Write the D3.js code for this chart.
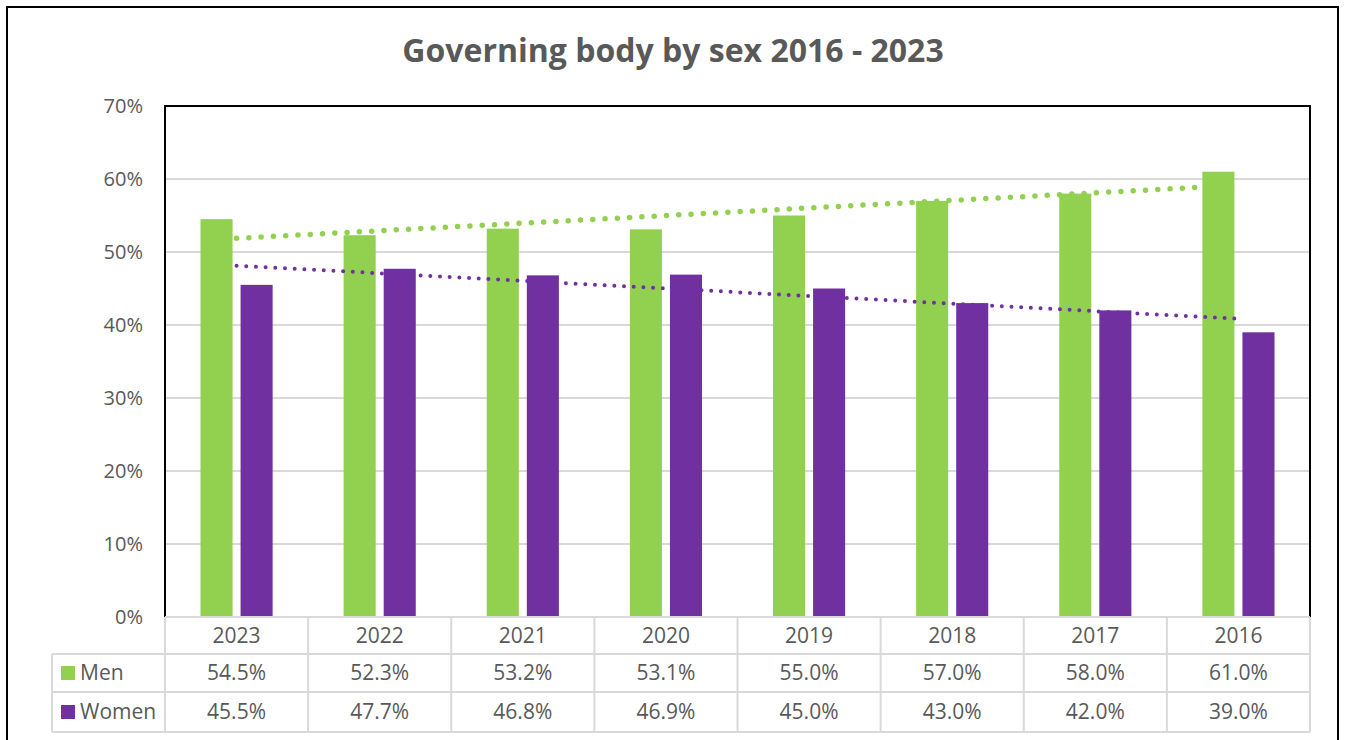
<!DOCTYPE html>
<html>
<head>
<meta charset="utf-8">
<script src="https://cdn.jsdelivr.net/npm/d3@7"></script>
<style>
  html, body { margin: 0; padding: 0; background: #fff; }
  svg { display: block; }
  text { font-family: "Open Sans", "Noto Sans", sans-serif; fill: #595959; }
</style>
</head>
<body>
<svg id="chart" width="1346" height="740"></svg>
<script>
// Governing body composition by sex, reported per year
const years = ["2023", "2022", "2021", "2020", "2019", "2018", "2017", "2016"];
const men   = [54.5, 52.3, 53.2, 53.1, 55.0, 57.0, 58.0, 61.0];
const women = [45.5, 47.7, 46.8, 46.9, 45.0, 43.0, 42.0, 39.0];
const yTicks = [0, 10, 20, 30, 40, 50, 60, 70];
const seriesNames = ["Men", "Women"];
const seriesColors = ["#92D050", "#7030A0"];
const title = "Governing body by sex 2016 - 2023";

const svg = d3.select("#chart");

const plot = { left: 165, right: 1310, top: 106, bottom: 617 };
const rowH = [617, 654, 692, 732];
const tableLeft = 52;

// outer chart frame
svg.append("rect")
  .attr("x", 7).attr("y", 7).attr("width", 1331).attr("height", 760)
  .attr("fill", "none").attr("stroke", "#000").attr("stroke-width", 2);

svg.append("text")
  .attr("x", 673).attr("y", 62)
  .attr("text-anchor", "middle")
  .style("font-weight", "bold").style("font-size", "32px")
  .text(title);

const x = d3.scaleBand().domain(years).range([plot.left, plot.right]).padding(0);
const y = d3.scaleLinear().domain([0, 70]).range([plot.bottom, plot.top]);

// horizontal gridlines
svg.append("g")
  .selectAll("line").data(yTicks.slice(1, -1)).join("line")
  .attr("x1", plot.left).attr("x2", plot.right)
  .attr("y1", d => y(d)).attr("y2", d => y(d))
  .attr("stroke", "#d9d9d9").attr("stroke-width", 2);

// y axis labels
const yAxis = d3.axisLeft(y).tickValues(yTicks).tickFormat(d => d + "%").tickSize(0).tickPadding(22);
const ya = svg.append("g").attr("transform", `translate(${plot.left},0)`).call(yAxis);
ya.select(".domain").remove();
ya.selectAll("text").style("font-size", "20px").style("fill", "#595959")
  .style("font-family", "'Open Sans', sans-serif");

// bars
const barW = x.bandwidth() * 0.224;
const gap = barW * 0.25;
const series = [men, women];
series.forEach((vals, s) => {
  svg.append("g").selectAll("rect").data(vals).join("rect")
    .attr("x", (d, i) => {
      const c = x(years[i]) + x.bandwidth() / 2;
      return s === 0 ? c - gap / 2 - barW : c + gap / 2;
    })
    .attr("y", d => y(d))
    .attr("width", barW)
    .attr("height", d => y(0) - y(d))
    .attr("fill", seriesColors[s]);
});

// linear trendlines (least squares over category index)
function linearFit(vals) {
  const n = vals.length;
  const xs = vals.map((_, i) => i + 1);
  const mx = d3.mean(xs), my = d3.mean(vals);
  let sxy = 0, sxx = 0;
  xs.forEach((xi, i) => { sxy += (xi - mx) * (vals[i] - my); sxx += (xi - mx) ** 2; });
  const b = sxy / sxx, a = my - b * mx;
  return [1, n].map(xi => [xi, a + b * xi]);
}
const trendStyle = [{ w: 5.5, dash: "0 12.3" }, { w: 4, dash: "0 9.7" }];
series.forEach((vals, s) => {
  const pts = linearFit(vals);
  svg.append("path")
    .datum(pts)
    .attr("d", d3.line()
      .x(p => x(years[p[0] - 1]) + x.bandwidth() / 2)
      .y(p => y(p[1])))
    .attr("fill", "none")
    .attr("stroke", seriesColors[s])
    .attr("stroke-width", trendStyle[s].w)
    .attr("stroke-linecap", "round")
    .attr("stroke-dasharray", trendStyle[s].dash);
});

// plot area border (left, top, right)
svg.append("path")
  .attr("d", `M${plot.left},${plot.bottom}V${plot.top}H${plot.right}V${plot.bottom}`)
  .attr("fill", "none").attr("stroke", "#000").attr("stroke-width", 2);

// data table
const tbl = svg.append("g").attr("stroke", "#d9d9d9").attr("stroke-width", 2);
tbl.append("line").attr("x1", plot.left).attr("x2", plot.right).attr("y1", rowH[0]).attr("y2", rowH[0]);
[rowH[1], rowH[2], rowH[3]].forEach(yy =>
  tbl.append("line").attr("x1", tableLeft).attr("x2", plot.right).attr("y1", yy).attr("y2", yy));
tbl.append("line").attr("x1", tableLeft).attr("x2", tableLeft).attr("y1", rowH[1]).attr("y2", rowH[3]);
years.forEach(yr =>
  tbl.append("line").attr("x1", x(yr)).attr("x2", x(yr)).attr("y1", rowH[0]).attr("y2", rowH[3]));
tbl.append("line").attr("x1", plot.right).attr("x2", plot.right).attr("y1", rowH[0]).attr("y2", rowH[3]);

const cellFont = "21px";
svg.append("g").selectAll("text").data(years).join("text")
  .attr("x", d => x(d) + x.bandwidth() / 2)
  .attr("y", (rowH[0] + rowH[1]) / 2)
  .attr("dy", "0.35em").attr("text-anchor", "middle")
  .style("font-size", cellFont)
  .text(d => d);

series.forEach((vals, s) => {
  const cy = (rowH[s + 1] + rowH[s + 2]) / 2;
  svg.append("g").selectAll("text").data(vals).join("text")
    .attr("x", (d, i) => x(years[i]) + x.bandwidth() / 2)
    .attr("y", cy).attr("dy", "0.35em").attr("text-anchor", "middle")
    .style("font-size", cellFont)
    .text(d => d.toFixed(1) + "%");
  svg.append("rect")
    .attr("x", 61).attr("y", cy - 7).attr("width", 14).attr("height", 14)
    .attr("fill", seriesColors[s]);
  svg.append("text")
    .attr("x", 80).attr("y", cy).attr("dy", "0.35em")
    .style("font-size", cellFont)
    .text(seriesNames[s]);
});
</script>
</body>
</html>
